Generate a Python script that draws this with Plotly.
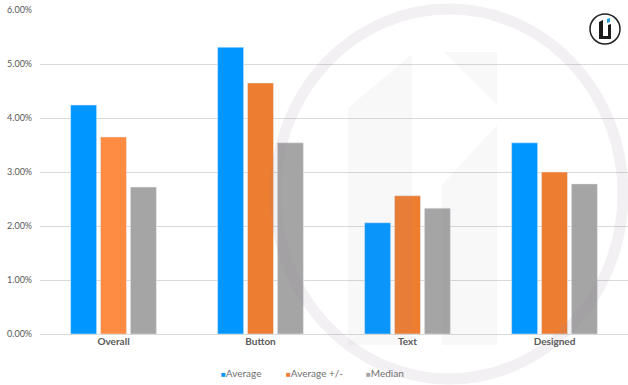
import plotly.graph_objects as go

categories = ["Overall", "Button", "Text", "Designed"]
average = [0.0424, 0.0531, 0.0206, 0.0354]
average_pm = [0.0365, 0.0465, 0.0256, 0.0300]
median = [0.0272, 0.0354, 0.0233, 0.0278]
series_names = ["Average", "Average +/-", "Median"]

W, H = 628, 385
L, R, T, B = 40, 628, 10, 334


def px(x):
    return (x - L) / (R - L)


def py(y):
    return (B - y) / (B - T)


colors = ["#0096FF", "#ED7D31", "#A5A5A5"]

fig = go.Figure()
fig.add_bar(x=categories, y=average, name=series_names[0], marker_color=colors[0])
fig.add_bar(x=categories, y=average_pm, name=series_names[1],
            marker_color=["#FF8C42", "#ED7D31", "#ED7D31", "#ED7D31"])
fig.add_bar(x=categories, y=median, name=series_names[2], marker_color=colors[2])

shapes = []
shapes.append(dict(type="circle", xref="paper", yref="paper",
                   x0=px(275), x1=px(623), y0=py(379), y1=py(9),
                   line=dict(color="rgba(150,135,150,0.12)", width=11),
                   layer="above"))


def poly(pts):
    return "M " + " L ".join(f"{px(a):.4f},{py(b):.4f}" for a, b in pts) + " Z"


wm = "rgba(150,135,150,0.06)"
shapes.append(dict(type="path", xref="paper", yref="paper",
                   path=poly([(348, 108), (412, 54), (412, 345), (348, 345)]),
                   fillcolor=wm, line=dict(width=0), layer="above"))
shapes.append(dict(type="path", xref="paper", yref="paper",
                   path=poly([(444, 52), (497, 52), (497, 105)]),
                   fillcolor=wm, line=dict(width=0), layer="above"))
shapes.append(dict(type="path", xref="paper", yref="paper",
                   path=poly([(442, 185), (497, 125), (497, 345), (442, 345)]),
                   fillcolor=wm, line=dict(width=0), layer="above"))
# small logo top right
shapes.append(dict(type="circle", xref="paper", yref="paper",
                   x0=px(590), x1=px(620), y0=py(44), y1=py(14),
                   line=dict(color="#222222", width=1.5), fillcolor="white", layer="above"))
shapes.append(dict(type="path", xref="paper", yref="paper",
                   path=poly([(599, 22), (603, 20), (603, 36), (608, 36), (608, 25),
                              (611, 24), (611, 39), (599, 39)]),
                   fillcolor="#1a1a1a", line=dict(width=0), layer="above"))
shapes.append(dict(type="path", xref="paper", yref="paper",
                   path=poly([(607, 19), (610, 18), (610, 22), (607, 23)]),
                   fillcolor="#1E9BE0", line=dict(width=0), layer="above"))

# legend drawn as text entries with small coloured squares
legend_left_px = [219, 284, 364]
annotations = []
for name, c, lx in zip(series_names, colors, legend_left_px):
    annotations.append(dict(
        xref="paper", yref="paper", x=px(lx), y=py(373), xanchor="left", yanchor="middle",
        showarrow=False,
        text=f"<span style='color:{c};font-size:8px'>■</span>{name}",
        font=dict(size=10, color="#6F6F6F", family="Lato, sans-serif")))

fig.update_layout(
    width=W, height=H,
    margin=dict(l=L, r=W - R, t=T, b=H - B, autoexpand=False),
    paper_bgcolor="white", plot_bgcolor="white",
    barmode="group", bargap=0.39, bargroupgap=0.13,
    font=dict(family="Lato, sans-serif", size=9, color="#595959"),
    showlegend=False,
    shapes=shapes,
    annotations=annotations,
)
fig.update_yaxes(range=[0, 0.06], dtick=0.01, tickformat=".2%",
                 gridcolor="#D9D9D9", gridwidth=1, zeroline=True,
                 zerolinecolor="#D9D9D9", zerolinewidth=1, automargin=False,
                 tickfont=dict(size=9, color="#595959", family="Lato, sans-serif"),
                 ticks="", showline=False, ticksuffix="   ")
fig.update_xaxes(tickfont=dict(size=10, color="#595959", family="Lato, sans-serif"),
                 showline=False, ticks="", automargin=False,
                 tickprefix="<b>", ticksuffix="</b>")

fig.write_html("out.html", config={"displayModeBar": False},
               post_script="document.body.style.margin='0';document.body.style.overflow='hidden';")
